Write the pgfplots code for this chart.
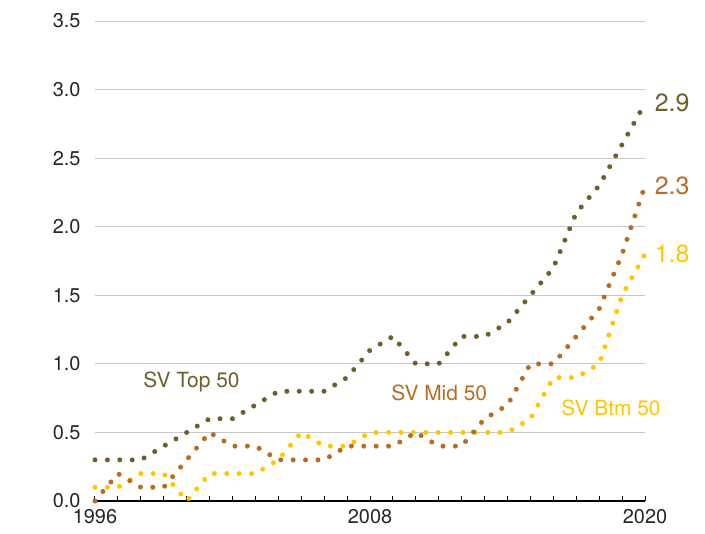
\documentclass[border=0pt]{standalone}
\usepackage{fontspec}
\setmainfont{TeX Gyre Heros}
\usepackage{pgfplots}
\pgfplotsset{compat=1.18}
\usepackage{pgfplotstable}
\definecolor{topc}{RGB}{110,94,42}
\definecolor{midc}{RGB}{183,108,33}
\definecolor{btmc}{RGB}{255,198,0}
\definecolor{gridc}{RGB}{200,200,200}
\pgfplotstableread{
year top mid btm
1996 0.3 0.0 0.1
1997 0.3 0.2 0.1
1998 0.3 0.1 0.2
1999 0.4 0.1 0.2
2000 0.5 0.3 0.0
2001 0.6 0.5 0.2
2002 0.6 0.4 0.2
2003 0.7 0.4 0.2
2004 0.8 0.3 0.3
2005 0.8 0.3 0.5
2006 0.8 0.3 0.4
2007 0.9 0.4 0.4
2008 1.1 0.4 0.5
2009 1.2 0.4 0.5
2010 1.0 0.5 0.5
2011 1.0 0.4 0.5
2012 1.2 0.4 0.5
2013 1.2 0.6 0.5
2014 1.3 0.7 0.5
2015 1.5 1.0 0.6
2016 1.7 1.0 0.9
2017 2.1 1.2 0.9
2018 2.3 1.4 1.0
2019 2.6 1.8 1.5
2020 2.9 2.3 1.8
}\data
\begin{document}
\begin{tikzpicture}
\useasboundingbox (-95bp,-33bp) rectangle (610bp,501bp);
\begin{axis}[
  scale only axis,
  width=550bp, height=480bp,
  xmin=1996, xmax=2020, ymin=0, ymax=3.5,
  clip=false,
  axis lines*=left,
  y axis line style={draw=none},
  x axis line style={draw=black, line width=1.3bp},
  xtick={1996,2008,2020},
  minor x tick num=11,
  ytick={0,0.5,...,3.5},
  tick align=inside,
  major tick length=5bp, minor tick length=5bp,
  xtick style={draw=black, line width=1bp},
  minor x tick style={draw=black, line width=1bp},
  ytick style={draw=none},
  ymajorgrids,
  grid style={draw=gridc, line width=1bp},
  /pgf/number format/assume math mode=true,
  tick label style={font=\fontsize{20}{24}\selectfont, text=black!85},
  xticklabel style={/pgf/number format/1000 sep={}, yshift=-5bp},
  yticklabel style={/pgf/number format/fixed, /pgf/number format/fixed zerofill, /pgf/number format/precision=1, xshift=-11bp},
  every axis plot/.style={line width=5bp, line cap=round, dash pattern=on 0bp off 12.4bp},
]
\addplot[btmc] table[x=year,y=btm]{\data} node[pos=1, anchor=west, xshift=4bp, font=\fontsize{25}{30}\selectfont, text=btmc]{1.8};
\addplot[midc] table[x=year,y=mid]{\data} node[pos=1, anchor=west, xshift=4bp, font=\fontsize{25}{30}\selectfont, text=midc]{2.3};
\addplot[topc] table[x=year,y=top]{\data} node[pos=1, anchor=west, xshift=4bp, font=\fontsize{25}{30}\selectfont, text=topc]{2.9};
\node[anchor=west, text=topc, font=\fontsize{21}{25}\selectfont] at (axis cs:1997.96,0.87) {SV Top 50};
\node[anchor=west, text=midc, font=\fontsize{21}{25}\selectfont] at (axis cs:2008.78,0.79) {SV Mid 50};
\node[anchor=west, text=btmc, font=\fontsize{21}{25}\selectfont] at (axis cs:2016.2,0.68) {SV Btm 50};
\end{axis}
\end{tikzpicture}
\end{document}
